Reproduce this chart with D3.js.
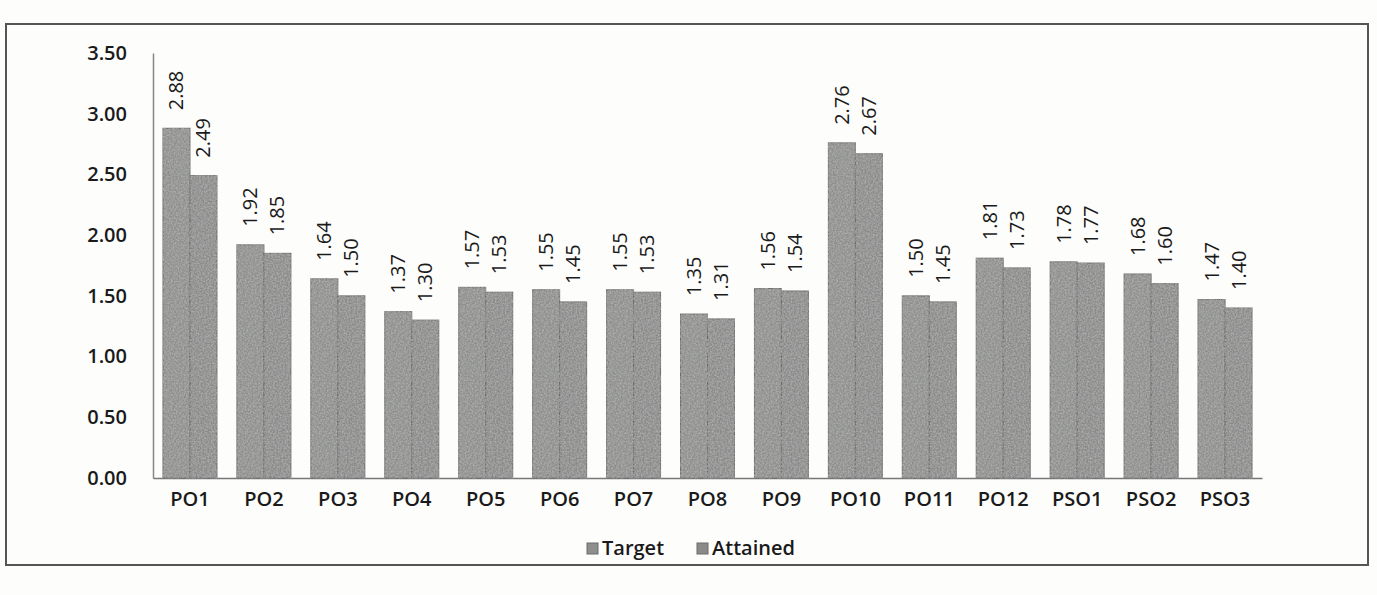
<!DOCTYPE html>
<html>
<head>
<meta charset="utf-8">
<script src="https://cdn.jsdelivr.net/npm/d3@7"></script>
<style>
  body { margin: 0; background: #fdfdfc; }
  text { font-family: "Open Sans", Lato, sans-serif; fill: #1a1a1a; }
</style>
</head>
<body>
<div id="chart"></div>
<script>
const categories = ["PO1","PO2","PO3","PO4","PO5","PO6","PO7","PO8","PO9","PO10","PO11","PO12","PSO1","PSO2","PSO3"]
const target = [2.88,1.92,1.64,1.37,1.57,1.55,1.55,1.35,1.56,2.76,1.50,1.81,1.78,1.68,1.47]
const attained = [2.49,1.85,1.50,1.30,1.53,1.45,1.53,1.31,1.54,2.67,1.45,1.73,1.77,1.60,1.40]
const yTicks = [0, 0.5, 1, 1.5, 2, 2.5, 3, 3.5]
const seriesNames = ["Target", "Attained"]

const W = 1377, H = 595
const margin = {top: 53, right: 115, bottom: 117, left: 153}
const width = W - margin.left - margin.right,
    height = H - margin.top - margin.bottom

const svg = d3.select("#chart").append("svg")
    .attr("width", W).attr("height", H)

// scanned-paper texture for the bars
const defs = svg.append("defs")
const filt = defs.append("filter").attr("id", "grain")
filt.append("feTurbulence").attr("type", "fractalNoise").attr("baseFrequency", 0.6).attr("numOctaves", 2).attr("result", "n")
filt.append("feColorMatrix").attr("in", "n").attr("type", "matrix")
    .attr("values", "0 0 0 0 0.45  0 0 0 0 0.46  0 0 0 0 0.45  0 0 0 -1.6 1.1").attr("result", "m")
filt.append("feComposite").attr("in", "m").attr("in2", "SourceGraphic").attr("operator", "in").attr("result", "c")
const fm = filt.append("feMerge")
fm.append("feMergeNode").attr("in", "SourceGraphic")
fm.append("feMergeNode").attr("in", "c")

// outer frame
svg.append("rect")
    .attr("x", 6).attr("y", 24).attr("width", 1362).attr("height", 541)
    .attr("fill", "none").attr("stroke", "#555").attr("stroke-width", 2)

const g = svg.append("g").attr("transform", `translate(${margin.left},${margin.top})`)

const x = d3.scaleBand().domain(categories).range([0, width]).paddingInner(0.27).paddingOuter(0.135)
const xs = d3.scaleBand().domain(seriesNames).range([0, x.bandwidth()])
const y = d3.scaleLinear().domain([0, 3.5]).range([height, 0])

// y axis
const yAxis = g.append("g").call(d3.axisLeft(y).tickValues(yTicks).tickFormat(d3.format(".2f")).tickSize(0).tickPadding(26))
yAxis.select(".domain").attr("stroke", "#888").attr("stroke-width", 1.5)
yAxis.selectAll("text").style("font-size", "20px").style("font-weight", "600").attr("fill", "#1a1a1a")

// x axis
const xAxis = g.append("g").attr("transform", `translate(0,${height})`)
    .call(d3.axisBottom(x).tickSize(0).tickPadding(14).tickSizeOuter(0))
xAxis.select(".domain").attr("stroke", "#777").attr("stroke-width", 1.5)
xAxis.selectAll("text").style("font-size", "20px").style("font-weight", "600").attr("fill", "#1a1a1a")

const data = categories.map((c, i) => ({cat: c, vals: [
    {name: "Target", v: target[i]}, {name: "Attained", v: attained[i]}]}))
const colors = {Target: "#8e8f8d", Attained: "#8a8a89"}

const grp = g.append("g").selectAll("g").data(data).enter().append("g")
    .attr("transform", d => `translate(${x(d.cat)},0)`)

grp.selectAll("rect").data(d => d.vals).enter().append("rect")
    .attr("x", d => xs(d.name))
    .attr("y", d => y(d.v))
    .attr("width", xs.bandwidth())
    .attr("height", d => height - y(d.v))
    .attr("fill", d => colors[d.name])
    .attr("stroke", "#6a6a6a").attr("stroke-width", 1)
    .attr("filter", "url(#grain)")

// value labels, rotated
grp.selectAll("text.val").data(d => d.vals).enter().append("text")
    .attr("class", "val")
    .attr("transform", d => `translate(${xs(d.name) + xs.bandwidth() / 2 + 7},${y(d.v) - 18}) rotate(-90)`)
    .style("font-size", "20px")
    .text(d => d.v.toFixed(2))

// legend
const legend = svg.append("g").attr("transform", "translate(587,548)")
const items = [{name: "Target", x: 0}, {name: "Attained", x: 110}]
items.forEach(it => {
    legend.append("rect").attr("x", it.x).attr("y", -5).attr("width", 11).attr("height", 11)
        .attr("fill", colors[it.name]).attr("stroke", "#6a6a6a")
    legend.append("text").attr("x", it.x + 15).attr("y", 7)
        .style("font-size", "20px").style("font-weight", "600").text(it.name)
})
</script>
</body>
</html>
